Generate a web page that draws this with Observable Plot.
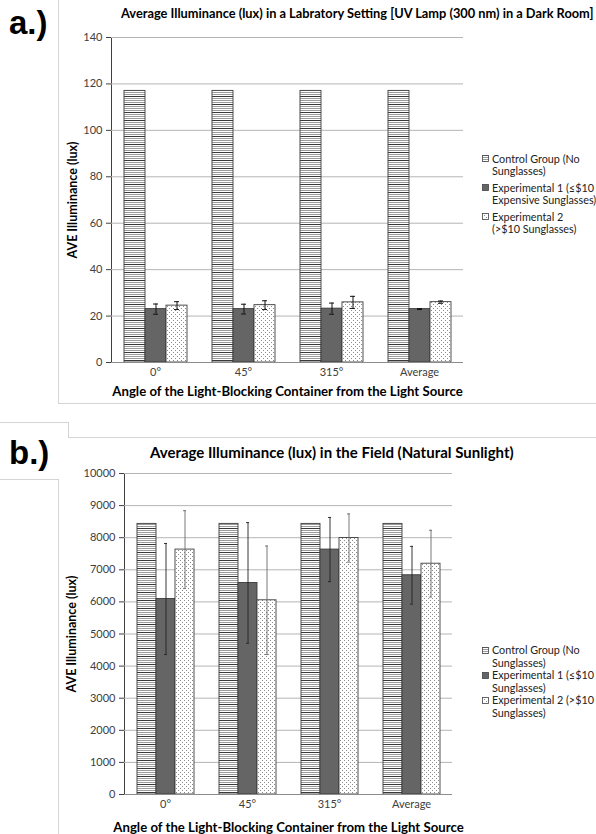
<!DOCTYPE html>
<html><head><meta charset="utf-8">
<script src="https://cdn.jsdelivr.net/npm/d3@7"></script>
<script src="https://cdn.jsdelivr.net/npm/@observablehq/plot@0.6"></script>
<style>
html,body{margin:0;padding:0;background:#fff;}
body{width:596px;height:834px;position:relative;overflow:hidden;font-family:Lato,"Open Sans",sans-serif;}
.abs{position:absolute;}
.panel{position:absolute;font-family:"Liberation Sans",Arial,sans-serif;font-weight:bold;font-size:33px;color:#000;line-height:1;}
.title{position:absolute;font-weight:bold;color:#000;white-space:nowrap;}
.legend{position:absolute;font-size:10.8px;color:#222;white-space:pre;}
.legend .item{position:relative;padding-left:10px;}
.legend .item svg{position:absolute;left:0;}
g[aria-label="fx-axis label"] text{font-weight:bold;font-size:13.2px;fill:#000;}
g[aria-label="y-axis label"] text{font-weight:bold;font-size:12.5px;fill:#000;}
.line{position:absolute;background:#d4d4d4;}
</style></head><body>
<svg width="0" height="0" style="position:absolute">
  <defs>
    <pattern id="hstripe" patternUnits="userSpaceOnUse" width="8" height="8">
      <rect width="8" height="8" fill="#fff"/>
      <rect y="0" width="8" height="1" fill="#3a3a3a"/>
      <rect y="2" width="8" height="1" fill="#9a9a9a"/>
      <rect y="4" width="8" height="1" fill="#9a9a9a"/>
      <rect y="6" width="8" height="1" fill="#9a9a9a"/>
    </pattern>
    <pattern id="dots" patternUnits="userSpaceOnUse" width="4" height="4">
      <rect width="4" height="4" fill="#fff"/>
      <rect x="0" y="0" width="1" height="1" fill="#8a8a8a"/>
      <rect x="2" y="2" width="1" height="1" fill="#8a8a8a"/>
    </pattern>
  </defs>
</svg>

<!-- frames -->
<div class="line" style="left:58px;top:0;width:1px;height:403px"></div>
<div class="line" style="left:58px;top:403px;width:538px;height:1px"></div>
<div class="line" style="left:0;top:422px;width:68px;height:1px"></div>
<div class="line" style="left:68px;top:422px;width:1px;height:15px"></div>
<div class="line" style="left:68px;top:437px;width:528px;height:1px"></div>
<div class="line" style="left:0;top:479px;width:59px;height:1px"></div>
<div class="line" style="left:58px;top:479px;width:1px;height:355px"></div>

<div class="panel" style="left:9px;top:6px">a.)</div>
<div class="panel" style="left:9px;top:436px">b.)</div>

<div class="title" id="titleA" style="left:121px;top:5px;font-size:12.8px">Average Illuminance (lux) in a Labratory Setting [UV Lamp (300 nm) in a Dark Room]</div>
<div class="title" id="titleB" style="left:150px;top:443px;font-size:15px">Average Illuminance (lux) in the Field (Natural Sunlight)</div>

<div id="chartA" class="abs" style="left:0;top:0"></div>
<div id="chartB" class="abs" style="left:0;top:440px"></div>

<div class="legend" id="legendA" style="left:482px;top:153px;"></div>
<div class="legend" id="legendB" style="left:482px;top:644px;"></div>

<script>
// ---------- data ----------
const categories = ["0°", "45°", "315°", "Average"];
const seriesKeys = ["Control", "Exp1", "Exp2"];

const labControl = [117, 117, 117, 117];
const labExp1 = [23.0, 23.0, 23.2, 23.0];
const labExp1Err = [2.2, 2.1, 2.4, 0.2];
const labExp2 = [24.5, 24.7, 25.9, 26.0];
const labExp2Err = [1.7, 1.9, 2.6, 0.5];
const labTicks = [0, 20, 40, 60, 80, 100, 120, 140];

const fieldControl = [8430, 8430, 8430, 8430];
const fieldExp1 = [6090, 6590, 7630, 6830];
const fieldExp1Err = [1730, 1880, 1000, 900];
const fieldExp2 = [7630, 6050, 7990, 7190];
const fieldExp2Err = [1210, 1690, 750, 1040];
const fieldTicks = [0, 1000, 2000, 3000, 4000, 5000, 6000, 7000, 8000, 9000, 10000];

const legendA = ["Control Group (No\nSunglasses)", "Experimental 1 (≤$10\nExpensive Sunglasses)", "Experimental 2\n(>$10 Sunglasses)"];
const legendB = ["Control Group (No\nSunglasses)", "Experimental 1 (≤$10\nSunglasses)", "Experimental 2 (>$10\nSunglasses)"];
const xTitle = "Angle of the Light-Blocking Container from the Light Source";
const yTitle = "AVE Illuminance (lux)";

const fills = {Control: "url(#hstripe)", Exp1: "#656565", Exp2: "url(#dots)"};

function rowsOf(control, e1, e1err, e2, e2err) {
  return categories.flatMap((cat, i) => [
    {cat, s: "Control", v: control[i], e: null},
    {cat, s: "Exp1", v: e1[i], e: e1err[i]},
    {cat, s: "Exp2", v: e2[i], e: e2err[i]}
  ]);
}

function chart(rows, o) {
  const errRows = rows.filter(d => d.e != null);
  const barMarks = seriesKeys.map(s =>
    Plot.barY(rows.filter(d => d.s === s), {
      fx: "cat", x: "s", y: "v", fill: fills[s], stroke: "#3c3c3c", strokeWidth: 0.9
    })
  );
  const errMarks = seriesKeys.slice(1).flatMap(s => {
    const r = errRows.filter(d => d.s === s);
    const stroke = o.errColors[s];
    return [
      Plot.ruleX(r, {fx: "cat", x: "s", y1: d => d.v - d.e, y2: d => d.v + d.e, stroke, strokeWidth: o.errWidth}),
      Plot.tickY(r, {fx: "cat", x: "s", y: d => d.v + d.e, stroke, strokeWidth: o.errWidth, insetLeft: o.capInset, insetRight: o.capInset}),
      Plot.tickY(r, {fx: "cat", x: "s", y: d => d.v - d.e, stroke, strokeWidth: o.errWidth, insetLeft: o.capInset, insetRight: o.capInset})
    ];
  });
  return Plot.plot({
    width: o.width, height: o.height,
    marginTop: o.mt, marginBottom: o.mb, marginLeft: o.ml, marginRight: o.mr,
    style: {fontFamily: "Lato, 'Open Sans', sans-serif", fontSize: "11px", color: "#404040", background: "transparent", overflow: "visible"},
    fx: {domain: categories, padding: 0, axis: "bottom", tickSize: 0, tickPadding: o.fxPad, label: xTitle, labelAnchor: "center", labelOffset: o.fxLabelOffset},
    x: {domain: seriesKeys, axis: null, paddingInner: 0, paddingOuter: o.pad},
    y: {domain: [0, o.yMax], ticks: o.ticks, tickFormat: d => String(d), tickSize: 5, tickPadding: 4, label: yTitle, labelArrow: "none", labelAnchor: "center", labelOffset: o.yLabelOffset, line: true},
    marks: [
      Plot.gridY(o.ticks, {stroke: "#b5b5b5", strokeOpacity: 1}),
      ...barMarks,
      ...errMarks,
      Plot.ruleY([0], {stroke: "#8c8c8c"})
    ]
  });
}

const rowsA = rowsOf(labControl, labExp1, labExp1Err, labExp2, labExp2Err);
const rowsB = rowsOf(fieldControl, fieldExp1, fieldExp1Err, fieldExp2, fieldExp2Err);

document.getElementById("chartA").append(chart(rowsA, {
  width: 470, height: 405, mt: 37, mb: 43, ml: 110, mr: 7, pad: 0.53,
  yMax: 140, ticks: labTicks, yLabelOffset: 43, fxPad: 6, fxLabelOffset: 33,
  errColors: {Exp1: "#111", Exp2: "#111"}, errWidth: 1, capInset: 8
}));
document.getElementById("chartB").append(chart(rowsB, {
  width: 470, height: 394, mt: 33, mb: 40, ml: 124, mr: 18, pad: 0.57,
  yMax: 10000, ticks: fieldTicks, yLabelOffset: 57, fxPad: 6, fxLabelOffset: 37,
  errColors: {Exp1: "#222", Exp2: "#6a6a6a"}, errWidth: 0.9, capInset: 8
}));

function legend(el, labels, lh, gap) {
  labels.forEach((t, i) => {
    const key = seriesKeys[i];
    const div = document.createElement("div");
    div.className = "item";
    div.style.lineHeight = lh + "px";
    div.style.marginBottom = gap + "px";
    div.innerHTML = `<svg width="7" height="7" style="top:${(lh - 7) / 2}px"><rect x="0.5" y="0.5" width="6" height="6" fill="${fills[key]}" stroke="#444" stroke-width="0.8"/></svg>`;
    const span = document.createElement("span");
    span.textContent = t;
    div.append(span);
    el.append(div);
  });
}
legend(document.getElementById("legendA"), legendA, 11.5, 6);
legend(document.getElementById("legendB"), legendB, 12.5, 0);
</script>
</body></html>
